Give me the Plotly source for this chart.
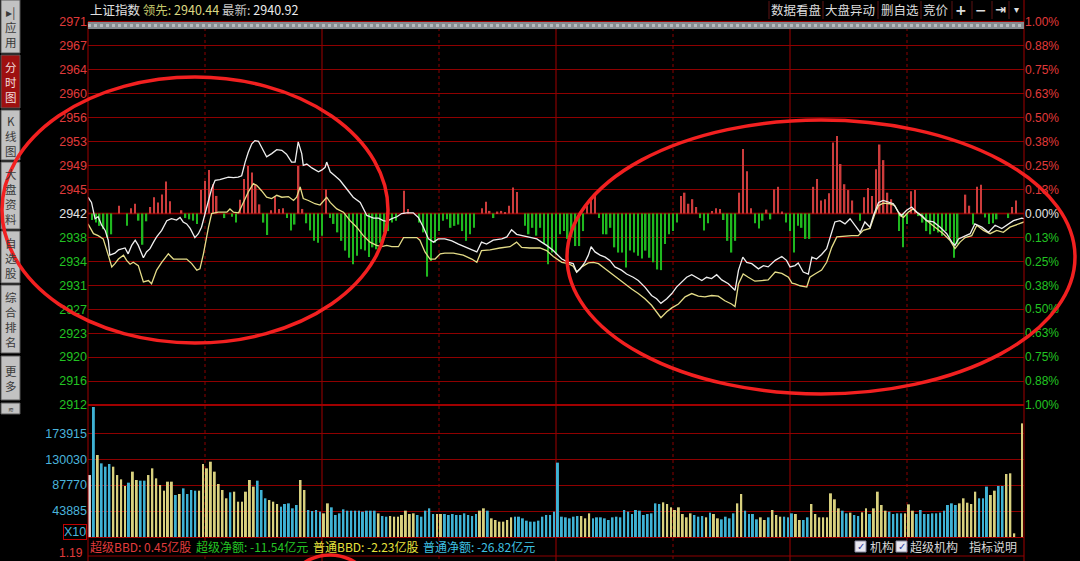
import plotly.graph_objects as go

W, H = 1080, 561


def fx(p):
    return p / W


def fy(p):
    return 1 - p / H


# ---------------- data ----------------
PREV_CLOSE = 2941.7
LEAD_LAST = 2940.44
INDEX_LAST = 2940.92

# 上证指数 (white line): minute, price
index_t = [0.0, 0.9, 1.8, 2.6, 3.5, 4.4, 5.2, 5.6, 6.9, 7.8, 9.5, 10.3, 11.2, 12.1, 12.9, 14.2, 15.0, 15.9, 16.8,
           17.6, 18.9, 20.2, 21.4, 22.7, 23.6, 24.4, 25.3, 26.2, 27.4, 28.3, 29.1, 30.4, 31.7, 32.6, 33.8, 36.0,
           37.3, 38.5, 39.4, 40.3, 41.1, 42.0, 42.8, 43.7, 44.5, 45.8, 47.1, 48.4, 49.7, 50.9, 52.2, 53.1, 53.9,
           54.8, 55.2, 56.1, 57.4, 59.1, 60.0, 60.8, 61.2, 62.1, 63.3, 64.6, 66.3, 68.0, 69.8, 70.6, 71.5, 73.2,
           74.5, 75.7, 76.6, 77.9, 79.2, 80.4, 81.7, 83.4, 84.7, 86.0, 87.3, 88.6, 89.8, 91.5, 93.3, 95.0, 97.1,
           99.7, 100.9, 102.2, 103.9, 106.1, 107.4, 108.6, 109.9, 111.6, 113.3, 115.1, 116.3, 117.6, 119.3, 121.5,
           123.2, 124.4, 125.3, 126.2, 127.4, 128.3, 129.0, 130.0, 131.3, 132.6, 133.8, 135.1, 136.8, 138.1, 139.8,
           141.1, 142.8, 144.5, 145.8, 146.9, 148.4, 149.7, 150.9, 152.2, 153.5, 154.8, 156.1, 157.4, 158.6, 159.9,
           161.2, 162.5, 164.2, 165.9, 166.8, 167.9, 168.9, 170.2, 171.9, 173.2, 174.4, 176.2, 177.9, 179.1, 180.0,
           181.3, 182.1, 183.4, 184.7, 185.6, 186.8, 188.1, 189.4, 190.7, 191.5, 192.8, 194.1, 195.4, 196.7, 198.0,
           199.2, 200.5, 201.4, 202.7, 203.9, 205.2, 206.5, 207.8, 208.6, 209.9, 211.2, 212.5, 213.8, 215.0, 216.8,
           218.5, 220.2, 221.5, 222.3, 223.2, 224.4, 226.2, 227.4, 229.2, 230.9, 232.6, 234.3, 236.0, 237.3, 239.4,
           240.0]
index_p = [2944.2, 2943.4, 2940.9, 2941.2, 2939.9, 2939.1, 2937.6, 2935.3, 2935.6, 2936.1, 2936.4, 2935.5, 2936.8,
           2937.6, 2936.8, 2934.9, 2935.8, 2936.3, 2937.3, 2938.1, 2939.1, 2940.6, 2940.9, 2940.7, 2941.1, 2940.4,
           2940.1, 2939.4, 2938.0, 2938.6, 2939.6, 2942.7, 2945.5, 2946.8, 2946.9, 2947.3, 2947.2, 2947.3, 2947.5,
           2949.6, 2951.1, 2952.4, 2952.9, 2952.8, 2951.9, 2950.4, 2950.9, 2951.5, 2951.4, 2950.8, 2949.6, 2949.6,
           2952.7, 2950.9, 2949.1, 2949.3, 2948.7, 2948.1, 2948.4, 2948.8, 2949.6, 2948.1, 2947.5, 2946.8, 2945.5,
           2944.2, 2943.4, 2942.4, 2941.4, 2941.0, 2941.0, 2940.6, 2940.5, 2940.9, 2941.2, 2941.7, 2941.8, 2941.8,
           2941.1, 2939.6, 2937.8, 2937.3, 2937.8, 2937.8, 2937.5, 2937.0, 2936.5, 2935.8, 2937.3, 2937.0, 2937.6,
           2937.8, 2938.1, 2939.2, 2938.5, 2938.3, 2938.0, 2937.8, 2937.3, 2936.8, 2936.0, 2934.7, 2934.2, 2934.0,
           2932.7, 2933.2, 2934.2, 2935.3, 2936.6, 2935.8, 2935.3, 2935.0, 2934.5, 2933.5, 2933.0, 2932.4, 2931.9,
           2931.4, 2930.4, 2929.1, 2928.6, 2927.9, 2928.6, 2929.4, 2930.4, 2931.2, 2931.9, 2932.3, 2931.9, 2931.4,
           2931.9, 2931.7, 2932.3, 2931.5, 2930.9, 2929.9, 2933.0, 2935.0, 2934.2, 2934.0, 2933.2, 2933.7, 2933.5,
           2934.5, 2935.1, 2934.5, 2933.5, 2933.7, 2934.1, 2932.7, 2932.4, 2935.0, 2934.7, 2935.4, 2936.3, 2939.1,
           2940.4, 2940.6, 2940.1, 2940.9, 2939.9, 2938.8, 2940.4, 2939.6, 2941.4, 2943.4, 2943.7, 2943.4, 2943.2,
           2941.9, 2941.4, 2942.2, 2942.7, 2941.9, 2941.4, 2940.6, 2940.4, 2939.6, 2938.6, 2937.3, 2936.8, 2937.8,
           2938.1, 2938.6, 2940.1, 2939.6, 2938.8, 2939.9, 2939.4, 2940.1, 2940.6, 2941.0, 2940.9]

# 领先指数 (yellow line): minute, price
lead_t = [0.0, 1.4, 2.6, 3.9, 5.2, 6.1, 6.9, 7.8, 9.1, 9.9, 10.8, 11.6, 12.9, 14.2, 15.5, 16.3, 17.6, 18.9, 20.6,
          21.9, 24.0, 25.3, 26.6, 27.9, 28.7, 29.6, 30.9, 31.7, 33.4, 35.6, 36.4, 37.3, 38.6, 39.8, 41.1, 42.4,
          43.3, 44.5, 45.8, 47.1, 48.4, 49.7, 51.4, 52.7, 53.5, 54.4, 55.2, 56.5, 58.2, 59.5, 61.2, 62.1, 63.8,
          65.5, 67.2, 68.9, 70.6, 72.3, 74.0, 75.3, 76.6, 77.9, 79.6, 80.9, 82.6, 84.3, 85.1, 86.4, 87.7, 89.0,
          90.3, 91.5, 93.7, 96.2, 98.4, 99.7, 100.9, 103.1, 105.6, 108.2, 109.9, 111.2, 113.3, 115.9, 117.6,
          119.3, 121.5, 123.2, 124.4, 125.3, 126.6, 128.3, 129.6, 130.9, 132.6, 134.3, 136.0, 137.7, 139.4, 141.1,
          142.8, 144.5, 145.8, 146.9, 148.4, 149.7, 151.4, 153.1, 154.8, 156.5, 158.2, 159.9, 161.6, 163.3, 165.0,
          165.9, 166.8, 168.0, 169.3, 171.0, 172.7, 174.4, 176.2, 177.9, 179.6, 180.5, 181.3, 182.6, 184.3, 185.1,
          186.4, 188.1, 189.4, 190.7, 192.0, 193.7, 195.8, 197.5, 198.8, 200.5, 201.8, 202.7, 203.9, 205.6, 206.9,
          208.2, 209.1, 210.3, 211.6, 212.9, 214.2, 215.9, 217.6, 219.3, 221.0, 222.3, 223.6, 224.9, 226.6, 227.9,
          229.6, 231.3, 233.0, 234.7, 236.4, 238.1, 239.4, 240.0]
lead_p = [2940.1, 2938.6, 2938.3, 2937.8, 2935.3, 2933.5, 2934.0, 2934.7, 2935.3, 2934.5, 2933.9, 2934.2, 2933.7,
          2931.2, 2931.4, 2930.9, 2933.0, 2934.2, 2935.5, 2934.7, 2934.7, 2934.7, 2934.0, 2933.0, 2933.2, 2935.5,
          2939.6, 2941.7, 2941.9, 2941.9, 2942.4, 2941.9, 2941.8, 2943.4, 2945.0, 2946.3, 2946.0, 2945.2, 2944.2,
          2944.0, 2944.5, 2944.2, 2944.3, 2943.7, 2944.2, 2945.8, 2944.0, 2943.7, 2943.2, 2943.0, 2944.2, 2943.4,
          2942.4, 2941.9, 2940.6, 2939.6, 2938.3, 2937.3, 2936.8, 2936.6, 2936.8, 2936.6, 2936.6, 2938.0, 2938.0,
          2938.0, 2937.6, 2935.8, 2934.7, 2934.7, 2935.5, 2935.6, 2935.6, 2935.3, 2934.7, 2934.2, 2936.0, 2936.1,
          2936.4, 2936.6, 2937.3, 2936.5, 2936.4, 2936.4, 2936.0, 2935.1, 2934.2, 2934.0, 2933.6, 2932.7, 2933.5,
          2934.1, 2934.2, 2934.0, 2933.2, 2932.4, 2931.7, 2930.9, 2930.1, 2929.4, 2928.6, 2927.6, 2926.6, 2925.7,
          2926.6, 2927.2, 2927.8, 2928.9, 2929.4, 2929.0, 2928.9, 2929.1, 2929.0, 2928.3, 2927.8, 2927.4, 2930.9,
          2932.4, 2931.9, 2931.3, 2931.4, 2931.5, 2932.7, 2932.5, 2931.9, 2931.0, 2930.9, 2930.6, 2930.4, 2931.9,
          2932.4, 2933.0, 2934.2, 2936.5, 2938.1, 2938.2, 2938.3, 2938.3, 2939.1, 2939.4, 2941.7, 2942.9, 2943.3,
          2943.2, 2942.9, 2941.4, 2941.1, 2941.9, 2942.4, 2941.7, 2941.0, 2940.2, 2939.4, 2938.6, 2937.6, 2936.3,
          2937.3, 2938.0, 2938.3, 2939.9, 2939.1, 2938.6, 2939.1, 2938.8, 2939.6, 2940.0, 2940.2, 2940.4]

# red / green strength bars (points above / below previous close)
buy_t = [8, 11, 12, 16, 17, 18, 19, 20, 21, 24, 29, 30, 31, 32, 33, 39, 40, 41, 42, 43, 44, 47, 48, 49, 50, 54, 55,
         61, 81, 82, 101, 102, 103, 105, 106, 107, 108, 109, 110, 128, 129, 130, 152, 153, 154, 155, 156, 160, 161,
         162, 167, 168, 169, 170, 174, 176, 177, 178, 186, 187, 188, 189, 190, 191, 192, 193, 194, 195, 196, 199,
         200, 201, 202, 203, 204, 205, 206, 211, 212, 225, 226, 228, 229, 237, 238]
buy_v = [1.2, 0.8, 1.5, 1.0, 2.5, 1.7, 2.9, 4.9, 1.9, 0.5, 3.6, 5.0, 6.7, 4.5, 2.7, 2.1, 5.3, 7.3, 6.3, 4.5, 1.4,
         0.5, 2.7, 0.7, 0.8, 7.3, 0.7, 3.7, 3.5, 0.7, 0.8, 1.8, 0.4, 0.3, 0.4, 0.2, 1.2, 4.0, 3.3, 1.2, 2.5, 2.7,
         2.7, 3.2, 1.5, 2.2, 1.0, 0.4, 0.8, 0.7, 3.2, 9.9, 6.5, 0.8, 0.6, 3.7, 4.1, 0.3, 4.1, 5.3, 2.0, 2.2, 3.1,
         10.9, 11.9, 7.6, 4.5, 3.6, 2.0, 2.5, 3.9, 2.7, 6.8, 10.6, 8.2, 3.2, 2.2, 3.4, 3.6, 2.9, 1.2, 4.1, 4.4,
         1.0, 2.0]
sell_t = [1, 2, 3, 4, 5, 6, 10, 13, 14, 15, 25, 26, 27, 28, 35, 37, 38, 45, 46, 51, 52, 53, 56, 57, 58, 59, 60, 62,
          63, 64, 65, 66, 67, 68, 69, 70, 71, 72, 73, 74, 75, 76, 77, 78, 79, 85, 86, 87, 88, 89, 90, 91, 92, 93,
          94, 95, 96, 97, 98, 99, 104, 112, 113, 114, 115, 116, 117, 118, 119, 120, 121, 122, 123, 124, 125, 126,
          127, 131, 132, 133, 134, 135, 136, 137, 138, 139, 140, 141, 142, 143, 144, 145, 146, 147, 148, 149, 150,
          151, 157, 158, 159, 163, 164, 165, 166, 171, 172, 173, 175, 179, 180, 181, 182, 183, 184, 185, 198, 208,
          209, 210, 213, 214, 215, 216, 217, 218, 219, 220, 221, 222, 223, 227, 230, 231, 232, 233, 236]
sell_v = [-1.0, -1.4, -1.9, -2.4, -3.7, -3.2, -1.9, -1.1, -4.8, -1.2, -0.7, -0.9, -1.1, -1.6, -0.7, -0.5, -1.4,
          -1.4, -3.3, -0.7, -2.6, -1.7, -1.5, -2.6, -4.2, -4.5, -3.4, -0.7, -1.6, -2.9, -4.2, -5.7, -6.8, -7.8,
          -6.5, -5.5, -5.7, -6.7, -5.2, -5.5, -4.5, -2.9, -2.7, -1.4, -1.1, -1.4, -2.9, -9.7, -7.3, -4.5, -2.7,
          -1.1, -0.9, -2.2, -1.9, -1.7, -2.7, -4.2, -3.2, -2.2, -0.7, -1.9, -3.2, -2.2, -3.4, -2.2, -4.7, -7.8,
          -6.0, -6.3, -3.2, -2.7, -3.9, -3.6, -5.0, -5.0, -2.7, -0.7, -3.2, -3.2, -2.2, -5.2, -6.0, -6.0, -8.3,
          -5.7, -6.0, -6.5, -6.9, -5.7, -6.8, -7.5, -8.6, -8.7, -4.7, -3.2, -2.7, -1.4, -0.7, -2.6, -1.5, -1.0,
          -4.2, -6.0, -4.2, -1.5, -2.3, -1.1, -0.9, -1.4, -2.7, -6.0, -1.9, -2.2, -3.9, -3.9, -1.1, -2.7, -5.2,
          -1.6, -0.4, -1.4, -2.7, -3.2, -2.7, -2.9, -3.4, -2.7, -3.7, -6.8, -4.7, -1.7, -0.6, -1.6, -1.5, -0.9,
          -0.7]

# per-minute volume (x10)
volume = [104600, 219400, 138400, 124300, 118700, 123200, 118700, 104600, 97300, 86100,
          91700, 110300, 96200, 95100, 95100, 104600, 115900, 99000, 87800, 78200,
          93400, 93400, 70900, 72600, 82100, 72600, 79300, 78200, 78200, 123200,
          115900, 127100, 110300, 89500, 79300, 65300, 75400, 76500, 59600, 59600,
          76500, 96200, 85000, 95100, 79300, 65300, 62400, 59600, 55700, 51200,
          55700, 56800, 48400, 54000, 96200, 79300, 45600, 43900, 45600, 42800,
          39900, 56800, 50100, 37100, 39900, 46700, 44400, 44400, 44400, 44400,
          42800, 44400, 44400, 44400, 39900, 35400, 34300, 35400, 34300, 34300,
          37100, 44400, 38800, 39900, 37100, 34300, 44400, 48400, 38800, 38800,
          38800, 38800, 37100, 38800, 37100, 37100, 39900, 37100, 35400, 38800,
          44400, 48400, 44400, 31500, 28700, 25900, 25900, 28700, 33200, 34300,
          34300, 31500, 27600, 25900, 25900, 27600, 34300, 37100, 37100, 42800,
          125500, 34300, 33200, 31500, 34300, 35400, 35400, 31500, 39900, 31500,
          33200, 33200, 31500, 28700, 33200, 34300, 33200, 45600, 42800, 38800,
          45600, 44400, 37100, 38800, 39900, 56800, 55700, 58500, 55700, 50100,
          45600, 50100, 38800, 33200, 39900, 37100, 34300, 35400, 33200, 41100,
          38800, 31500, 29800, 34300, 31500, 39900, 56800, 72600, 44400, 38800,
          38800, 29800, 33200, 28700, 33200, 45600, 37100, 34300, 34300, 33200,
          39900, 38800, 28700, 28700, 33200, 55700, 38800, 33200, 33200, 33200,
          73700, 63600, 48400, 44400, 39900, 41100, 37100, 35400, 41600, 48400,
          38800, 48400, 76500, 54000, 44400, 42800, 38800, 39900, 39900, 39900,
          55100, 44400, 38800, 45600, 38800, 38800, 39900, 39900, 41100, 44400,
          54000, 56800, 54000, 56800, 65300, 57900, 55700, 76500, 65300, 65300,
          85000, 70900, 78200, 86100, 86100, 106300, 107500, 6200, 0, 191800]
# u = up minute, d = down minute, w = opening
vol_dir = "".join([
    "wduddduuuu", "duudduuuuu", "uududddduu", "uuuuuuduuu", "uuuddduuud",
    "dddduudddd", "uudddddddd", "ddddudduuu", "uuuudddddu", "uddddddddd",
    "uuduuuuuud", "dddddddddd", "dddddduuud", "dddddddddd", "ddddddduuu",
    "uuuuudddud", "uudddduudd", "dduuduuudd", "duudduuuuu", "uuuddudduu",
    "duuuuddddu", "uudddddddd", "ddduuuuudd", "duudduuuuu"])

price_labels = ["2971", "2967", "2964", "2960", "2956", "2953", "2949", "2945", "2942",
                "2938", "2934", "2931", "2927", "2923", "2920", "2916", "2912"]
pct_labels = ["1.00%", "0.88%", "0.75%", "0.63%", "0.50%", "0.38%", "0.25%", "0.13%", "0.00%",
              "0.13%", "0.25%", "0.38%", "0.50%", "0.63%", "0.75%", "0.88%", "1.00%"]
vol_ticks = [173915, 130030, 87770, 43885]
vol_labels = ["173915", "130030", "87770", "43885"]

stats_names = ["超级BBD", "超级净额", "普通BBD", "普通净额"]
stats_values = ["0.45", "-11.54", "-2.23", "-26.82"]
stats_units = ["亿股", "亿元", "亿股", "亿元"]

# ---------------- style ----------------
GRID = "#8e0000"
RED_T = "#e03a3a"
GREEN_T = "#22c322"
WHITE_T = "#e4e4e4"
CJK = "Noto Sans CJK SC, sans-serif"
NUM = "Liberation Sans, Arial, sans-serif"
X0, X1 = 88, 1024
PT, PB = 22, 405
VT, VB = 405, 537
xdom = [fx(X0), fx(X1)]

lo, hi = PREV_CLOSE * 0.99, PREV_CLOSE * 1.01
price_ticks = [PREV_CLOSE * (1.01 - k * 0.00125) for k in range(len(price_labels))]


def lab_color(k, n):
    mid = n // 2
    if k < mid:
        return RED_T
    if k == mid:
        return WHITE_T
    return GREEN_T


left_text = [f"<span style='color:{lab_color(k, len(price_labels))}'>{t}</span>"
             for k, t in enumerate(price_labels)]
right_text = [f"<span style='color:{lab_color(k, len(pct_labels))}'>{t}</span>"
              for k, t in enumerate(pct_labels)]

fig = go.Figure()
fig.add_trace(go.Bar(x=buy_t, y=buy_v, base=PREV_CLOSE, width=0.38,
                     marker=dict(color="#cc3c3c", line=dict(width=0)),
                     xaxis="x", yaxis="y", hoverinfo="skip"))
fig.add_trace(go.Bar(x=sell_t, y=sell_v, base=PREV_CLOSE, width=0.38,
                     marker=dict(color="#1fb81f", line=dict(width=0)),
                     xaxis="x", yaxis="y", hoverinfo="skip"))
fig.add_trace(go.Scatter(x=lead_t, y=lead_p, mode="lines",
                         line=dict(color="#e4dc88", width=1.3), xaxis="x", yaxis="y"))
fig.add_trace(go.Scatter(x=index_t, y=index_p, mode="lines",
                         line=dict(color="#eeeeee", width=1.3), xaxis="x", yaxis="y"))
fig.add_trace(go.Scatter(x=index_t, y=index_p, mode="lines", opacity=0,
                         line=dict(width=0), xaxis="x", yaxis="y3", hoverinfo="skip"))
dir_color = {"u": "#d8d07e", "d": "#3fb2d4", "w": "#dcdcdc"}
fig.add_trace(go.Bar(x=[i + 0.5 for i in range(len(volume))], y=volume, width=0.5,
                     marker=dict(color=[dir_color[c] for c in vol_dir], line=dict(width=0)),
                     xaxis="x2", yaxis="y2"))

shapes = []
# vertical grid lines through the whole chart
for m in [60, 120, 180]:
    shapes.append(dict(type="line", xref="x", yref="paper", x0=m, x1=m, y0=fy(PT), y1=fy(561),
                       line=dict(color="#a00000", width=1), layer="below"))
for m in [30, 90, 150, 210]:
    shapes.append(dict(type="line", xref="x", yref="paper", x0=m, x1=m, y0=fy(PT), y1=fy(561),
                       line=dict(color="#8a0000", width=1, dash="dot"), layer="below"))
# borders
shapes.append(dict(type="line", xref="paper", yref="paper", x0=fx(X0), x1=fx(X0), y0=fy(PT), y1=fy(561),
                   line=dict(color="#a00000", width=1)))
shapes.append(dict(type="line", xref="paper", yref="paper", x0=fx(X1), x1=fx(X1), y0=fy(0), y1=fy(561),
                   line=dict(color="#a00000", width=1)))
shapes.append(dict(type="line", xref="paper", yref="paper", x0=fx(X0), x1=fx(X1), y0=fy(556), y1=fy(556),
                   line=dict(color=GRID, width=1)))
# previous close line
shapes.append(dict(type="line", xref="x", yref="y", x0=0, x1=240, y0=PREV_CLOSE, y1=PREV_CLOSE,
                   line=dict(color="#c80000", width=1.6), layer="below"))
# gray drag ruler
shapes.append(dict(type="rect", xref="paper", yref="paper", x0=fx(X0), x1=fx(X1), y0=fy(29), y1=fy(22),
                   fillcolor="#868c90", line=dict(width=0)))
shapes.append(dict(type="line", xref="paper", yref="paper", x0=fx(X0), x1=fx(X1), y0=fy(25.5), y1=fy(25.5),
                   line=dict(color="#b6babd", width=3, dash="dot")))

annotations = []
# left sidebar
side_items = [("▸|<br>应<br>用", 0, 53, False), ("分<br>时<br>图", 55, 108, True),
              ("K<br>线<br>图", 110, 160, False), ("大<br>盘<br>资<br>料", 162, 229, False),
              ("自<br>选<br>股", 231, 283, False), ("综<br>合<br>排<br>名", 285, 353, False),
              ("更<br>多", 356, 400, False), ("≋", 403, 414, False)]
for text, y0, y1, sel in side_items:
    shapes.append(dict(type="rect", xref="paper", yref="paper", x0=fx(1), x1=fx(20), y0=fy(y1), y1=fy(y0),
                       fillcolor="#9e1010" if sel else "#c2c2c2",
                       line=dict(color="#5a5a5a", width=1)))
    annotations.append(dict(x=fx(10.5), y=fy((y0 + y1) / 2 + 0.5), xref="paper", yref="paper", text=text,
                            showarrow=False, xanchor="center", yanchor="middle", borderpad=0,
                            font=dict(family=CJK, size=11.5 if len(text) > 2 else 7,
                                      color="#f2dede" if sel else "#3a3a3a")))

# header
annotations.append(dict(
    x=fx(88), y=fy(10), xref="paper", yref="paper", xanchor="left", yanchor="middle", showarrow=False,
    text=(f"上证指数 <span style='color:#c4c86c'>领先:</span> <span style='color:#dcd882'>{LEAD_LAST:.2f}</span> "
          f"<span style='color:#c4c4c4'>最新:</span> <span style='color:#ececec'>{INDEX_LAST:.2f}</span>"),
    font=dict(family=CJK, size=12.5, color="#e0e0e0")))
buttons = [("数据看盘", 796, 12.5), ("大盘异动", 850, 12.5), ("删自选", 900, 12.5), ("竞价", 936, 12.5),
           ("<b>+</b>", 961, 14), ("<b>−</b>", 981, 14), ("<b>⇥</b>", 1000, 13), ("▾", 1016, 10)]
for text, xc, sz in buttons:
    annotations.append(dict(x=fx(xc), y=fy(10), xref="paper", yref="paper", text=text, showarrow=False,
                            xanchor="center", yanchor="middle",
                            font=dict(family="DejaVu Sans, " + CJK if sz != 12.5 else CJK, size=sz,
                                      color="#dcdcdc")))
for xs in [769, 823, 878, 921, 952, 972, 992, 1009]:
    shapes.append(dict(type="line", xref="paper", yref="paper", x0=fx(xs), x1=fx(xs), y0=fy(19), y1=fy(1),
                       line=dict(color="#5e1212", width=1)))

# volume axis extra labels
annotations.append(dict(x=fx(75), y=fy(532), xref="paper", yref="paper", text="X10", showarrow=False,
                        xanchor="center", yanchor="middle", bordercolor="#c00000", borderwidth=1, borderpad=0,
                        font=dict(family=NUM, size=12.5, color="#4ab4dc")))
annotations.append(dict(x=fx(85), y=fy(553), xref="paper", yref="paper", text="1.19", showarrow=False,
                        xanchor="right", yanchor="middle", font=dict(family=NUM, size=12, color=RED_T)))

# stats row
stat_x = [88, 194, 311, 421]
stat_c = ["#e23c3c", "#24c424", "#e6e23c", "#3ec0e2"]
for name, val, unit, xs, c in zip(stats_names, stats_values, stats_units, stat_x, stat_c):
    annotations.append(dict(x=fx(xs), y=fy(546), xref="paper", yref="paper", text=f"{name}: {val}{unit}",
                            showarrow=False, xanchor="left", yanchor="middle",
                            font=dict(family=CJK, size=12, color=c)))
for bx, label, lx in [(855, "机构", 868), (896, "超级机构", 908)]:
    shapes.append(dict(type="rect", xref="paper", yref="paper", x0=fx(bx), x1=fx(bx + 11), y0=fy(552),
                       y1=fy(541), fillcolor="#e8e8f0", line=dict(color="#8a8aa0", width=1)))
    annotations.append(dict(x=fx(bx + 5.5), y=fy(546.5), xref="paper", yref="paper", text="✓", showarrow=False,
                            xanchor="center", yanchor="middle",
                            font=dict(family="DejaVu Sans", size=10, color="#2a3a9a")))
    annotations.append(dict(x=fx(lx), y=fy(546), xref="paper", yref="paper", text=label, showarrow=False,
                            xanchor="left", yanchor="middle", font=dict(family=CJK, size=12, color="#d8d8d8")))
annotations.append(dict(x=fx(967), y=fy(546), xref="paper", yref="paper", text="指标说明", showarrow=False,
                        xanchor="left", yanchor="middle", font=dict(family=CJK, size=12, color="#d8d8d8")))

# hand-drawn red ellipses
for ex0, ey0, ex1, ey1 in [(2, 77, 388, 343), (567, 120, 1075, 394), (275, 555, 385, 690)]:
    shapes.append(dict(type="circle", xref="paper", yref="paper", x0=fx(ex0), x1=fx(ex1), y0=fy(ey1),
                       y1=fy(ey0), line=dict(color="#f22020", width=3.5), layer="above"))

pad = 0.002
fig.update_layout(
    width=W, height=H, autosize=False, margin=dict(l=0, r=0, t=0, b=0, pad=0, autoexpand=False),
    paper_bgcolor="black", plot_bgcolor="black", showlegend=False, barmode="overlay",
    font=dict(family=NUM, size=12, color="#cccccc"),
    xaxis=dict(domain=xdom, range=[0, 240], anchor="y", showgrid=False, zeroline=False,
               showticklabels=False, ticks="", showline=True, mirror=True, linecolor="#a00000",
               automargin=False),
    yaxis=dict(domain=[fy(PB), fy(PT)], range=[lo - pad, hi + pad], anchor="x", tickmode="array",
               tickvals=price_ticks, ticktext=left_text, showgrid=True, gridcolor=GRID, gridwidth=1,
               zeroline=False, ticks="", tickfont=dict(family=NUM, size=12.5), showline=False,
               automargin=False),
    yaxis3=dict(overlaying="y", side="right", anchor="x", range=[lo - pad, hi + pad], tickmode="array",
                tickvals=price_ticks, ticktext=right_text, showgrid=False, zeroline=False, ticks="",
                tickfont=dict(family=NUM, size=12), showline=False, automargin=False),
    xaxis2=dict(domain=xdom, range=[0, 240], anchor="y2", showgrid=False, zeroline=False,
                showticklabels=False, ticks="", showline=True, mirror=True, linecolor="#a00000",
                automargin=False),
    yaxis2=dict(domain=[fy(VB), fy(VT)], range=[0, 222800], anchor="x2", tickmode="array",
                tickvals=vol_ticks, ticktext=vol_labels, showgrid=True, gridcolor=GRID, gridwidth=1,
                zeroline=False, ticks="", tickfont=dict(family=NUM, size=12.5, color="#4ab4dc"),
                automargin=False),
    shapes=shapes, annotations=annotations,
)

fig.write_html(
    "out.html",
    config={"displayModeBar": False},
    post_script="document.body.style.margin='0';document.body.style.background='black';"
                "document.body.style.overflow='hidden';",
)
